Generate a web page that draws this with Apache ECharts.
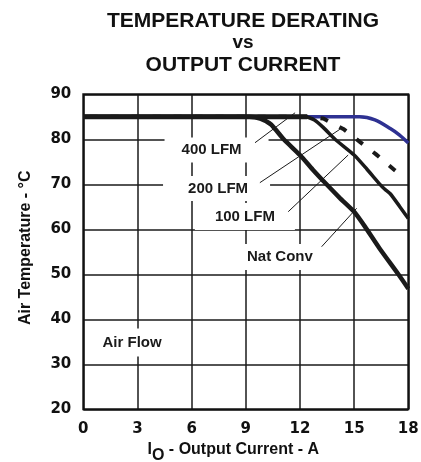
<!DOCTYPE html>
<html>
<head>
<meta charset="utf-8">
<script src="https://cdn.jsdelivr.net/npm/echarts@6/dist/echarts.min.js"></script>
<style>
html,body{margin:0;padding:0;background:#fff;}
#chart{width:421px;height:462px;}
</style>
</head>
<body>
<div id="chart"></div>
<script>
// ---- data ----
const xTicks = [0, 3, 6, 9, 12, 15, 18];
const yTicks = [20, 30, 40, 50, 60, 70, 80, 90];

const lfm400I = [0, 12.4, 14.0, 15.3, 16.15, 17.0, 17.5, 18];
const lfm400T = [85, 85, 85, 85, 84.3, 82.4, 81.0, 79.2];

const lfm200I = [0, 12.6, 13.3, 14.4, 15.3, 16.2, 17.2, 17.45];
const lfm200T = [85, 85, 84.6, 82.3, 79.5, 76.7, 73.3, 72.5];

const lfm100I = [0, 12.3, 12.8, 13.3, 13.94, 15.0, 15.7, 16.43, 16.7, 17.0, 17.5, 18];
const lfm100T = [85, 85, 84.3, 82.6, 80.0, 76.5, 73.4, 70.0, 68.9, 67.9, 65.2, 62.4];

const natConvI = [0, 9.2, 9.8, 10.4, 11.1, 12.0, 12.7, 13.47, 14.2, 15.0, 15.6, 16.4, 17.45, 18];
const natConvT = [85, 85, 84.6, 83.3, 80.0, 76.5, 73.3, 70.0, 67.0, 63.9, 60.6, 55.8, 50.0, 46.8];

// annotation labels (anchor in data units) and leader lines
const labelText = ['400 LFM', '200 LFM', '100 LFM', 'Nat Conv', 'Air Flow'];
const labelI = [7.38, 7.38, 8.95, 10.89, 2.70];
const labelT = [77.6, 69.07, 62.84, 53.84, 34.82];
const leaderFromI = [9.51, 9.78, 11.35, 13.2];
const leaderFromT = [79.24, 70.36, 63.91, 56.13];
const leaderToI = [11.73, 14.21, 14.67, 15.14];
const leaderToT = [85.9, 82.22, 76.51, 64.67];

// ---- styles ----
const labelPadding = [[2, 27, 8, 17], [6, 22, 4, 25], [7, 20, 5, 20], [5, 7, 6, 7], [6, 6, 7, 6]];
const FONT = '"Liberation Sans", Arial, sans-serif';
const TICKFONT = '"DejaVu Sans", sans-serif';

function pairs(xs, ys) { return xs.map((x, i) => [x, ys[i]]); }

const leaderSeries = leaderFromI.map((x, i) => ({
  type: 'line', silent: true, symbol: 'none', z: 4,
  data: [[x, leaderFromT[i]], [leaderToI[i], leaderToT[i]]],
  lineStyle: { color: '#1a1a1a', width: 1 }
}));

const chart = echarts.init(document.getElementById('chart'), null, { renderer: 'canvas' });
chart.setOption({
  animation: false,
  backgroundColor: '#fff',
  title: {
    text: '{t|TEMPERATURE DERATING}\n{v|vs}\n{t|OUTPUT CURRENT}',
    left: 243,
    textAlign: 'center',
    top: 10,
    padding: 0,
    textStyle: {
      rich: {
        t: { fontFamily: FONT, fontWeight: 'bold', fontSize: 21, lineHeight: 22, color: '#111' },
        v: { fontFamily: FONT, fontWeight: 'bold', fontSize: 19, lineHeight: 22, color: '#111' }
      }
    }
  },
  grid: {
    left: 83.3, right: 12.7, top: 94.3, bottom: 52.7,
    outerBoundsMode: 'none', containLabel: false,
    show: true, borderColor: '#111', borderWidth: 2, backgroundColor: 'transparent', z: 3
  },
  xAxis: {
    type: 'value', min: 0, max: 18, interval: 3,
    axisLine: { show: false }, axisTick: { show: false },
    splitLine: { show: true, lineStyle: { color: '#1a1a1a', width: 1.5 } },
    axisLabel: {
      margin: 12, fontFamily: TICKFONT, fontWeight: 'bold', fontSize: 15, color: '#111',
      customValues: xTicks
    },
    name: '{m|I}{s|O}{m| - Output Current - A}',
    nameLocation: 'middle', nameGap: 25,
    nameTextStyle: {
      padding: [0, 25, 0, 0],
      rich: {
        m: { fontFamily: FONT, fontWeight: 'bold', fontSize: 16, color: '#111' },
        s: { fontFamily: FONT, fontWeight: 'bold', fontSize: 16, color: '#111', padding: [13, 0, 0, 0] }
      }
    }
  },
  yAxis: {
    type: 'value', min: 20, max: 90, interval: 10,
    axisLine: { show: false }, axisTick: { show: false },
    splitLine: { show: true, lineStyle: { color: '#1a1a1a', width: 1.5 } },
    axisLabel: {
      margin: 12, fontFamily: TICKFONT, fontWeight: 'bold', fontSize: 15, color: '#111',
      customValues: yTicks
    },
    name: 'Air Temperature - °C',
    nameLocation: 'middle', nameGap: 50,
    nameTextStyle: { fontFamily: FONT, fontWeight: 'bold', fontSize: 16, color: '#111', padding: [0, 0, 0, 8] }
  },
  series: [
    {
      name: 'labels', type: 'scatter', silent: true, symbolSize: 0, z: 3,
      itemStyle: { opacity: 1 },
      data: labelText.map((t, i) => ({
        value: [labelI[i], labelT[i]],
        label: {
          show: true, position: 'inside', formatter: t,
          fontFamily: FONT, fontWeight: 'bold', fontSize: 15, color: '#1a1a1a',
          backgroundColor: '#fff', padding: labelPadding[i], opacity: 1
        }
      }))
    },
    ...leaderSeries,
    {
      name: '400 LFM', type: 'line', symbol: 'none', smooth: 0.3, z: 5,
      data: pairs(lfm400I, lfm400T),
      lineStyle: { color: '#2e3192', width: 3.5 }
    },
    {
      name: '200 LFM', type: 'line', symbol: 'none', z: 6,
      data: pairs(lfm200I, lfm200T),
      lineStyle: { color: '#1a1a1a', width: 4, type: [8, 13], dashOffset: 14.7, cap: 'butt' }
    },
    {
      name: '100 LFM', type: 'line', symbol: 'none', z: 7, smooth: 0.2,
      data: pairs(lfm100I, lfm100T),
      lineStyle: { color: '#1a1a1a', width: 3.5 }
    },
    {
      name: 'Nat Conv', type: 'line', symbol: 'none', z: 8, smooth: 0.2,
      data: pairs(natConvI, natConvT),
      lineStyle: { color: '#1a1a1a', width: 4.5 }
    },
    {
      name: 'flat', type: 'line', symbol: 'none', z: 9, silent: true,
      data: [[0, 85], [12.4, 85]],
      lineStyle: { color: '#1a1a1a', width: 5 }
    }
  ]
});
</script>
</body>
</html>
